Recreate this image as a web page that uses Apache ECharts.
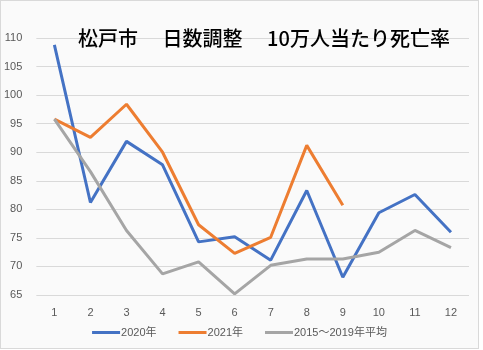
<!DOCTYPE html>
<html><head><meta charset="utf-8">
<script src="https://cdn.jsdelivr.net/npm/echarts@6/dist/echarts.min.js"></script>
<style>
html,body{margin:0;padding:0;background:#fff;}
#c{position:absolute;left:0;top:0;width:477px;height:347px;border:1px solid #d9d9d9;background:#fafafa;}
</style></head><body>
<div id="c"></div>
<script>
const months = ['1','2','3','4','5','6','7','8','9','10','11','12'];
const s2020 = [108.8, 81.2, 91.9, 87.8, 74.3, 75.2, 71.1, 83.3, 68.1, 79.4, 82.6, 76.0];
const s2021 = [95.8, 92.6, 98.4, 90.0, 77.3, 72.3, 75.1, 91.2, 80.7];
const sAvg = [95.8, 86.6, 76.3, 68.7, 70.8, 65.2, 70.2, 71.3, 71.3, 72.5, 76.3, 73.3];
const yTicks = [65, 110, 5];

const chart = echarts.init(document.getElementById('c'), null, {renderer:'canvas'});
const lab = {color:'#595959', fontFamily:'Liberation Sans, Arial, sans-serif', fontSize:11};
function ser(name, data, color){
  return {name, type:'line', data, symbol:'none', lineStyle:{width:3, color}, itemStyle:{color}, animation:false};
}
chart.setOption({
  backgroundColor:'#fafafa',
  title:{text:'松戸市　 日数調整　 10万人当たり死亡率', left:258, top:22, textAlign:'center',
    textStyle:{fontFamily:'Noto Sans CJK JP', fontSize:20, fontWeight:500, color:'#000'}},
  grid:{left:34, right:9, top:37, bottom:53},
  legend:{bottom:5, left:'center', itemWidth:28, itemHeight:3, itemGap:22, icon:'rect',
    textStyle:{color:'#595959', fontSize:11, fontFamily:'Liberation Sans, Noto Sans CJK JP, sans-serif', padding:[0,0,0,-4]},
    data:['2020年','2021年','2015～2019年平均']},
  xAxis:{type:'category', data:months, boundaryGap:true,
    axisLine:{show:false}, axisTick:{show:false}, axisLabel:Object.assign({margin:12}, lab)},
  yAxis:{type:'value', min:yTicks[0], max:yTicks[1], interval:yTicks[2],
    axisLine:{show:false}, axisTick:{show:false}, axisLabel:Object.assign({margin:14}, lab),
    splitLine:{lineStyle:{color:'#d9d9d9', width:1}}},
  series:[ser('2020年', s2020, '#4472C4'), ser('2021年', s2021, '#ED7D31'), ser('2015～2019年平均', sAvg, '#A5A5A5')]
});
</script></body></html>
